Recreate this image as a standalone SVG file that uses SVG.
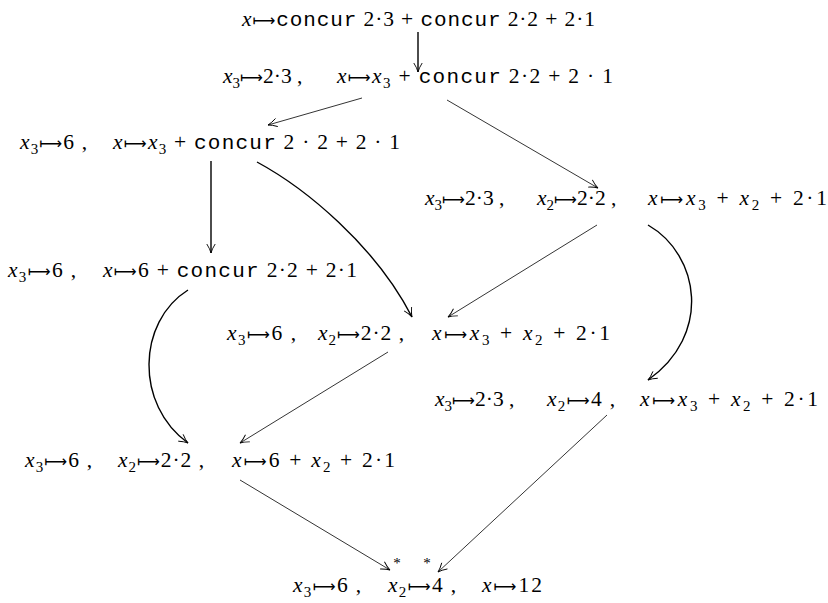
<svg xmlns="http://www.w3.org/2000/svg" width="828" height="603" viewBox="0 0 828 603">
<style>
.txt text{font-family:"Liberation Serif","DejaVu Serif",serif;font-size:21.5px;fill:#000;white-space:pre}
.i{font-style:italic}
.s{font-size:15px;font-style:normal}
.t{font-family:"Liberation Mono","DejaVu Sans Mono",monospace;font-size:21px}
.m{font-family:"DejaVu Sans",sans-serif;font-size:16px}
.txt text.ast{font-size:15px;text-anchor:middle}
.e{fill:none;stroke:#000;stroke-width:0.8;marker-end:url(#a)}
.b{stroke-width:1.4}
</style>
<defs>
<marker id="a" markerWidth="14" markerHeight="14" viewBox="-11 -7 14 14" refX="0" refY="0" orient="auto" markerUnits="userSpaceOnUse">
<path d="M-9,-4.2 Q-4,-1 0,0 Q-4,1 -9,4.2" fill="none" stroke="#000" stroke-width="0.9"/>
</marker>
</defs>
<rect width="828" height="603" fill="#fff"/>
<g id="connectors">
<path class="e b" d="M418,32 L418,72"/>
<path class="e" d="M362,98 L268,125"/>
<path class="e" d="M447,100 L598,188"/>
<path class="e b" d="M211,161 L211,253"/>
<path class="e b" d="M257,162 C305,188 375,245 412,317"/>
<path class="e" d="M597,225 L448,317"/>
<path class="e b" d="M648,225 C700,255 712,335 648,380"/>
<path class="e b" d="M188,290 C137,322 135,405 188,443"/>
<path class="e" d="M388,352 L240,443"/>
<path class="e" d="M607,415 L438,572"/>
<path class="e" d="M240,480 L390,570"/>
</g>
<g class="txt" xml:space="preserve">
<g id="n1"><text x="242" y="26" textLength="353" lengthAdjust="spacing"><tspan class="i">x</tspan><tspan class="m">⟼</tspan><tspan class="t">concur</tspan> 2·3 + <tspan class="t">concur</tspan> 2·2 + 2·1</text></g>
<g id="n2"><text x="223" y="83"><tspan class="i">x</tspan><tspan class="s" dy="4.5">3</tspan><tspan class="m" dy="-4.5">⟼</tspan>2·3 ,</text><text x="337" y="83" textLength="276" lengthAdjust="spacing"><tspan class="i">x</tspan><tspan class="m">⟼</tspan><tspan class="i">x</tspan><tspan class="s" dy="4.5">3</tspan><tspan dy="-4.5"> + </tspan><tspan class="t">concur</tspan> 2·2 + 2 · 1</text></g>
<g id="n3"><text x="20" y="149" textLength="67" lengthAdjust="spacing"><tspan class="i">x</tspan><tspan class="s" dy="4.5">3</tspan><tspan class="m" dy="-4.5">⟼</tspan>6 ,</text><text x="113" y="149" textLength="287" lengthAdjust="spacing"><tspan class="i">x</tspan><tspan class="m">⟼</tspan><tspan class="i">x</tspan><tspan class="s" dy="4.5">3</tspan><tspan dy="-4.5"> + </tspan><tspan class="t">concur</tspan> 2 · 2 + 2 · 1</text></g>
<g id="n4"><text x="425" y="205"><tspan class="i">x</tspan><tspan class="s" dy="4.5">3</tspan><tspan class="m" dy="-4.5">⟼</tspan>2·3 ,</text><text x="537" y="205"><tspan class="i">x</tspan><tspan class="s" dy="4.5">2</tspan><tspan class="m" dy="-4.5">⟼</tspan>2·2 ,</text><text x="648" y="205" textLength="179" lengthAdjust="spacing"><tspan class="i">x</tspan><tspan class="m">⟼</tspan><tspan class="i">x</tspan><tspan class="s" dy="4.5">3</tspan><tspan dy="-4.5"> + </tspan><tspan class="i">x</tspan><tspan class="s" dy="4.5">2</tspan><tspan dy="-4.5"> + 2·1</tspan></text></g>
<g id="n5"><text x="8" y="277" textLength="68" lengthAdjust="spacing"><tspan class="i">x</tspan><tspan class="s" dy="4.5">3</tspan><tspan class="m" dy="-4.5">⟼</tspan>6 ,</text><text x="103" y="277" textLength="254" lengthAdjust="spacing"><tspan class="i">x</tspan><tspan class="m">⟼</tspan>6 + <tspan class="t">concur</tspan> 2·2 + 2·1</text></g>
<g id="n6"><text x="227" y="340" textLength="69" lengthAdjust="spacing"><tspan class="i">x</tspan><tspan class="s" dy="4.5">3</tspan><tspan class="m" dy="-4.5">⟼</tspan>6 ,</text><text x="318" y="340" textLength="86" lengthAdjust="spacing"><tspan class="i">x</tspan><tspan class="s" dy="4.5">2</tspan><tspan class="m" dy="-4.5">⟼</tspan>2·2 ,</text><text x="432" y="340" textLength="178" lengthAdjust="spacing"><tspan class="i">x</tspan><tspan class="m">⟼</tspan><tspan class="i">x</tspan><tspan class="s" dy="4.5">3</tspan><tspan dy="-4.5"> + </tspan><tspan class="i">x</tspan><tspan class="s" dy="4.5">2</tspan><tspan dy="-4.5"> + 2·1</tspan></text></g>
<g id="n7"><text x="435" y="406"><tspan class="i">x</tspan><tspan class="s" dy="4.5">3</tspan><tspan class="m" dy="-4.5">⟼</tspan>2·3 ,</text><text x="547" y="406" textLength="68" lengthAdjust="spacing"><tspan class="i">x</tspan><tspan class="s" dy="4.5">2</tspan><tspan class="m" dy="-4.5">⟼</tspan>4 ,</text><text x="640" y="406" textLength="178" lengthAdjust="spacing"><tspan class="i">x</tspan><tspan class="m">⟼</tspan><tspan class="i">x</tspan><tspan class="s" dy="4.5">3</tspan><tspan dy="-4.5"> + </tspan><tspan class="i">x</tspan><tspan class="s" dy="4.5">2</tspan><tspan dy="-4.5"> + 2·1</tspan></text></g>
<g id="n8"><text x="25" y="467" textLength="67" lengthAdjust="spacing"><tspan class="i">x</tspan><tspan class="s" dy="4.5">3</tspan><tspan class="m" dy="-4.5">⟼</tspan>6 ,</text><text x="118" y="467" textLength="86" lengthAdjust="spacing"><tspan class="i">x</tspan><tspan class="s" dy="4.5">2</tspan><tspan class="m" dy="-4.5">⟼</tspan>2·2 ,</text><text x="232" y="467" textLength="163" lengthAdjust="spacing"><tspan class="i">x</tspan><tspan class="m">⟼</tspan>6 + <tspan class="i">x</tspan><tspan class="s" dy="4.5">2</tspan><tspan dy="-4.5"> + 2·1</tspan></text></g>
<g id="n9"><text x="293" y="592" textLength="68" lengthAdjust="spacing"><tspan class="i">x</tspan><tspan class="s" dy="4.5">3</tspan><tspan class="m" dy="-4.5">⟼</tspan>6 ,</text><text x="388" y="592" textLength="68" lengthAdjust="spacing"><tspan class="i">x</tspan><tspan class="s" dy="4.5">2</tspan><tspan class="m" dy="-4.5">⟼</tspan>4 ,</text><text x="482" y="592" textLength="60" lengthAdjust="spacing"><tspan class="i">x</tspan><tspan class="m">⟼</tspan>12</text><text class="ast" x="397" y="568">*</text><text class="ast" x="427" y="568">*</text></g>
</g>
</svg>
